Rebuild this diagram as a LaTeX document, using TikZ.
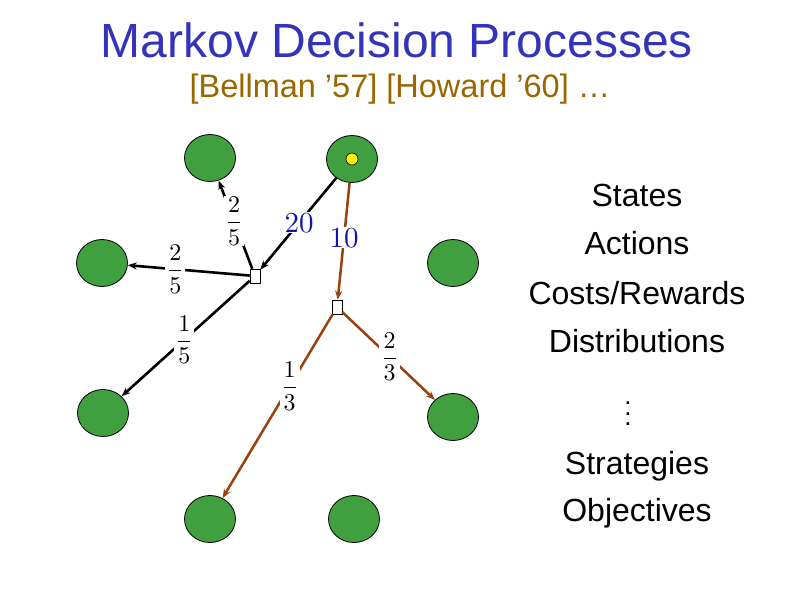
\documentclass[tikz,border=0pt]{standalone}
\usepackage{xcolor}
\usepackage{amsmath, amssymb}
\usepackage[no-math]{fontspec}
\setmainfont{Liberation Sans}
\usepackage{tikz}
\usetikzlibrary{shapes.geometric, arrows.meta}

\definecolor{titleblue}{RGB}{51,51,187}
\definecolor{citebrown}{RGB}{153,102,0}
\definecolor{costblue}{RGB}{20,20,170}
\definecolor{stategreen}{RGB}{64,160,64}
\definecolor{probbrown}{RGB}{153,64,15}

\begin{document}
\begin{tikzpicture}[x=1pt, y=-1pt,
    state/.style={draw, ellipse, fill=stategreen, minimum width=51pt, minimum height=47pt, inner sep=0pt, line width=0.8pt},
    act/.style={draw, rectangle, fill=white, minimum width=10pt, minimum height=14pt, inner sep=0pt, line width=0.6pt},
    prob/.style={text=black, fill=white, inner sep=0.5pt, scale=2.4, transform shape},
    cost/.style={text=costblue, fill=white, inner sep=0.4pt, scale=2.9, transform shape},
    concept/.style={anchor=base, font=\fontsize{32}{38}\selectfont},
    trans/.style={-{Stealth[length=9pt, width=7pt]}, line width=2.6pt},
    move/.style={trans, probbrown, line width=2.5pt}]
    \useasboundingbox (0,0) rectangle (794,595);

    \node[anchor=base, text=titleblue, font=\fontsize{48}{56}\selectfont] at (397,57) (title) {Markov Decision Processes};
    \node[anchor=base, text=citebrown, font=\fontsize{32.5}{38}\selectfont] at (400,97) (cite) {[Bellman ’57] [Howard ’60] …};

    \node[state] at (210,158) (s1) {};
    \node[state] at (352,159) (s0) {};
    \node[state] at (102,263) (s2) {};
    \node[state] at (453,263) (s3) {};
    \node[state] at (103,413) (s4) {};
    \node[state] at (453,417) (s5) {};
    \node[state] at (210,519) (s6) {};
    \node[state] at (354,519) (s7) {};
    \node[draw, circle, fill=yellow, minimum size=12pt, inner sep=0pt, line width=0.6pt] at (s0) (token) {};

    \node[act] at (255,276) (a1) {};
    \node[act] at (337,307) (a2) {};

    \draw[trans] (s0) -- node[cost, pos=0.49] {$20$} (a1);
    \draw[move] (s0) -- node[cost, pos=0.47] {$10$} (a2);
    \draw[trans] (a1) -- node[prob, pos=0.54] {$\displaystyle\frac{2}{5}$} (s1);
    \draw[trans] (a1) -- node[prob, pos=0.61] {$\displaystyle\frac{2}{5}$} (s2);
    \draw[trans] (a1) -- node[prob, pos=0.51] {$\displaystyle\frac{1}{5}$} (s4);
    \draw[move] (a2) -- node[prob, pos=0.39] {$\displaystyle\frac{1}{3}$} (s6);
    \draw[move] (a2) -- node[prob, pos=0.51] {$\displaystyle\frac{2}{3}$} (s5);

    \node[concept] at (637,206) (states) {States};
    \node[concept] at (637,254) (actions) {Actions};
    \node[concept] at (637,304) (costs) {Costs/Rewards};
    \node[concept] at (637,352) (dists) {Distributions};
    \node[scale=2.6, transform shape] at (628,406) (more) {$\vdots$};
    \node[concept] at (637,474) (strats) {Strategies};
    \node[concept] at (637,521) (objs) {Objectives};
\end{tikzpicture}
\end{document}
